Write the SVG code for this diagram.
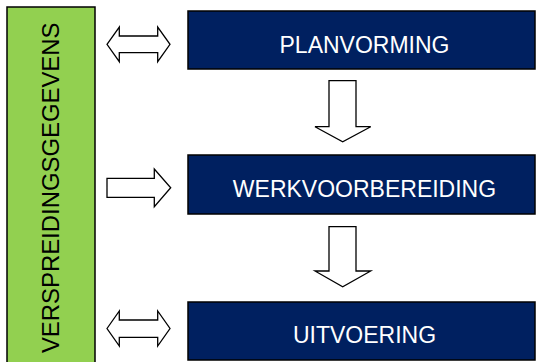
<svg xmlns="http://www.w3.org/2000/svg" width="537" height="362" viewBox="0 0 537 362">
<style>
.box{fill:#002060;stroke:#000;stroke-width:1.5}
.lbl{fill:#fff;font-family:"Liberation Sans",Arial,sans-serif;font-size:23px;text-anchor:middle}
.arr{fill:#fff;stroke:#000;stroke-width:1.3;stroke-linejoin:miter}
</style>
<rect width="537" height="362" fill="#fff"/>
<g id="gegevens">
<rect x="7" y="7" width="88" height="360" fill="#92D050" stroke="#000" stroke-width="1.5"/>
<text x="0" y="0" transform="translate(59.3,187.8) rotate(-90)" font-family="Liberation Sans, Arial, sans-serif" font-size="23.9" text-anchor="middle" fill="#000">VERSPREIDINGSGEGEVENS</text>
</g>
<g id="planvorming">
<rect class="box" x="188" y="11" width="347" height="58"/>
<text class="lbl" x="364.5" y="53.3">PLANVORMING</text>
</g>
<g id="werkvoorbereiding">
<rect class="box" x="188" y="155" width="347" height="59"/>
<text class="lbl" x="364.5" y="196.7">WERKVOORBEREIDING</text>
</g>
<g id="uitvoering">
<rect class="box" x="188" y="302" width="347" height="58"/>
<text class="lbl" x="364.5" y="343.3">UITVOERING</text>
</g>
<g id="connectors">
<path class="arr" d="M107,44.3 L119.3,27 L119.3,36 L157.7,36 L157.7,27 L170,44.3 L157.7,61.7 L157.7,52.7 L119.3,52.7 L119.3,61.7 Z"/>
<path class="arr" d="M107,178.3 L154.3,178.3 L154.3,169 L170.7,187.7 L154.3,206.7 L154.3,197.3 L107,197.3 Z"/>
<path class="arr" d="M107,328.5 L119.3,311 L119.3,320 L157.7,320 L157.7,311 L170,328.5 L157.7,346 L157.7,337.3 L119.3,337.3 L119.3,346 Z"/>
<path class="arr" d="M329,80.7 L356,80.7 L356,126.7 L370.7,126.7 L342.7,141.7 L315,126.7 L329,126.7 Z"/>
<path class="arr" d="M329,226.7 L356,226.7 L356,271 L370.7,271 L342.7,286.7 L315,271 L329,271 Z"/>
</g>
</svg>
